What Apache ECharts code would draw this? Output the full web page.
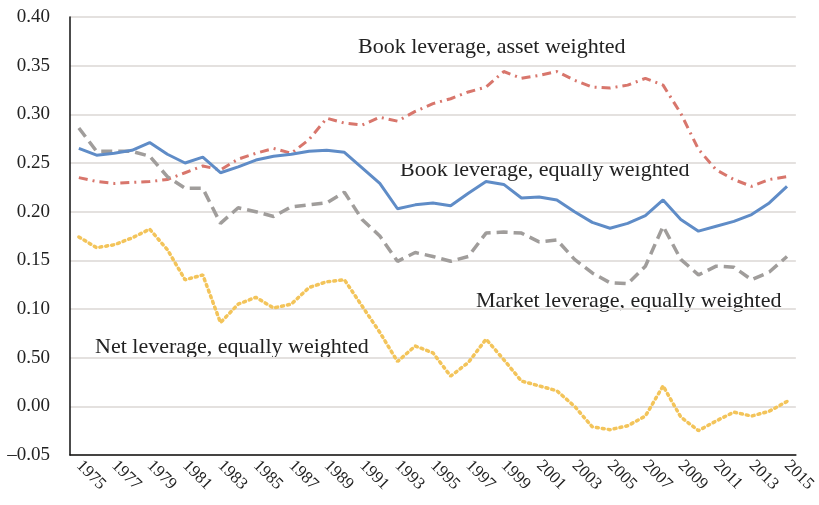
<!DOCTYPE html>
<html>
<head>
<meta charset="utf-8">
<script src="https://cdn.jsdelivr.net/npm/echarts@6/dist/echarts.min.js"></script>
<style>
  html, body { margin: 0; padding: 0; background: #fff; }
  #main { width: 819px; height: 505px; }
</style>
</head>
<body>
<div id="main"></div>
<script>
// 年份
var years = [];
for (var y = 1975; y <= 2015; y++) years.push(String(y));

// 纵轴刻度标签（原图 0.05 处印作 0.50）
var yTickLabels = ['\u20130.05', '0.00', '0.50', '0.10', '0.15', '0.20', '0.25', '0.30', '0.35', '0.40'];

// Book leverage, equally weighted
var bookEqual = [0.265, 0.258, 0.260, 0.263, 0.271, 0.259, 0.250, 0.256, 0.240, 0.246,
  0.253, 0.257, 0.259, 0.262, 0.263, 0.261, 0.245, 0.229, 0.203, 0.207,
  0.209, 0.206, 0.219, 0.231, 0.228, 0.214, 0.215, 0.212, 0.200, 0.189,
  0.183, 0.188, 0.196, 0.212, 0.192, 0.180, 0.185, 0.190, 0.197, 0.209, 0.226];

// Book leverage, asset weighted
var bookAsset = [0.235, 0.231, 0.229, 0.230, 0.231, 0.233, 0.240, 0.247, 0.243, 0.254,
  0.260, 0.265, 0.260, 0.274, 0.296, 0.291, 0.289, 0.297, 0.293, 0.303,
  0.311, 0.316, 0.323, 0.328, 0.344, 0.337, 0.340, 0.344, 0.335, 0.328,
  0.327, 0.330, 0.337, 0.330, 0.301, 0.264, 0.243, 0.233, 0.226, 0.233, 0.236];

// Market leverage, equally weighted
var marketEqual = [0.286, 0.262, 0.262, 0.262, 0.257, 0.236, 0.224, 0.224, 0.188, 0.204,
  0.200, 0.195, 0.205, 0.207, 0.209, 0.220, 0.192, 0.175, 0.149, 0.158,
  0.154, 0.149, 0.154, 0.178, 0.179, 0.178, 0.169, 0.171, 0.151, 0.137,
  0.127, 0.126, 0.144, 0.185, 0.151, 0.135, 0.144, 0.143, 0.130, 0.138, 0.154];

// Net leverage, equally weighted
var netEqual = [0.174, 0.163, 0.166, 0.173, 0.182, 0.161, 0.130, 0.135, 0.086, 0.105,
  0.112, 0.101, 0.105, 0.122, 0.128, 0.130, 0.103, 0.076, 0.046, 0.062,
  0.055, 0.031, 0.045, 0.069, 0.048, 0.026, 0.021, 0.016, 0.000, -0.021,
  -0.024, -0.020, -0.010, 0.021, -0.011, -0.025, -0.015, -0.006, -0.010, -0.005, 0.005];

var serif = '"Liberation Serif", "DejaVu Serif", serif';

var chart = echarts.init(document.getElementById('main'));

function textLabel(text, left, top) {
    return {
        type: 'text',
        left: left,
        top: top,
        style: {
            text: text,
            font: '22px ' + serif,
            fill: '#222'
        }
    };
}

var option = {
    animation: false,
    backgroundColor: '#fff',
    grid: { left: 70, right: 9, top: 17, bottom: 50 },
    xAxis: {
        type: 'category',
        data: years,
        boundaryGap: true,
        axisLine: { onZero: false, lineStyle: { color: '#111', width: 1.5 } },
        axisTick: { show: false },
        axisLabel: {
            interval: 1,
            rotate: -45,
            margin: 8,
            color: '#222',
            fontFamily: serif,
            fontSize: 17
        },
        splitLine: { show: false }
    },
    yAxis: {
        type: 'value',
        min: -0.05,
        max: 0.40,
        interval: 0.05,
        axisLine: { show: true, lineStyle: { color: '#111', width: 1.5 } },
        axisTick: { show: false },
        axisLabel: {
            margin: 20,
            color: '#222',
            fontFamily: serif,
            fontSize: 19,
            formatter: function (v) {
                return yTickLabels[Math.round((v + 0.05) / 0.05)];
            }
        },
        splitLine: { lineStyle: { color: '#e4e1df', width: 2 } }
    },
    graphic: [
        textLabel('Book leverage, asset weighted', 358, 36),
        textLabel('Book leverage, equally weighted', 400, 159),
        textLabel('Market leverage, equally weighted', 476, 290),
        textLabel('Net leverage, equally weighted', 95, 336)
    ],
    series: [
        {
            name: 'Book leverage, asset weighted',
            type: 'line',
            data: bookAsset,
            showSymbol: false,
            lineStyle: { color: '#d8766c', width: 3, type: [9, 5, 2, 5] }
        },
        {
            name: 'Market leverage, equally weighted',
            type: 'line',
            data: marketEqual,
            showSymbol: false,
            lineStyle: { color: '#a09d9b', width: 3.5, type: [11, 6] }
        },
        {
            name: 'Net leverage, equally weighted',
            type: 'line',
            data: netEqual,
            showSymbol: false,
            lineStyle: { color: '#f3c45a', width: 3.5, type: [2, 4], cap: 'round' }
        },
        {
            name: 'Book leverage, equally weighted',
            type: 'line',
            data: bookEqual,
            showSymbol: false,
            lineStyle: { color: '#5f8cc7', width: 3 }
        }
    ]
};

chart.setOption(option);

window.addEventListener('resize', function () {
    chart.resize();
});
</script>
</body>
</html>
